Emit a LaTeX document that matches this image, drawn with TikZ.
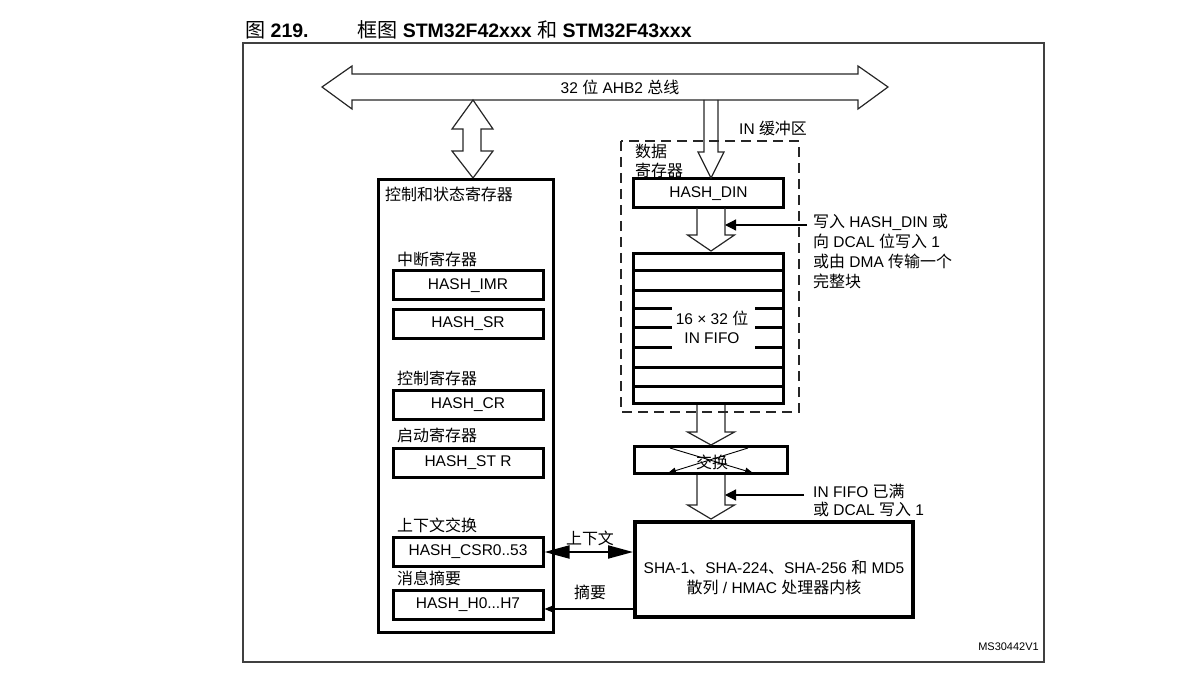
\documentclass[tikz,border=0pt]{standalone}
\usepackage{fontspec}
\setmainfont{Liberation Sans}
\newfontfamily\cjk[Scale=1.03]{Noto Sans CJK SC}
\usetikzlibrary{arrows.meta}
\newcommand{\zh}[1]{{\cjk #1}}
% open block arrow pointing down: x, y top, y head base, y tip, shaft half, head half
\newcommand{\fatarrow}[6]{%
  \draw[outline] ({#1-#5},#2) -- ({#1-#5},#3) -- ({#1-#6},#3) -- (#1,#4)
    -- ({#1+#6},#3) -- ({#1+#5},#3) -- ({#1+#5},#2);}
\tikzset{
  outline/.style={line width=1.2pt, black!85, line join=miter},
  regbox/.style={rectangle, draw, line width=3pt, minimum width=150pt, minimum height=29pt, inner sep=0pt, align=center},
  bigbox/.style={rectangle, draw, line width=3.2pt, inner sep=0pt},
  lbl/.style={inner sep=0pt},
  notearrow/.style={line width=1.2pt, -{Triangle[length=11pt, width=11pt]}},
}

\begin{document}
\begin{tikzpicture}[x=1pt, y=-1pt, font=\fontsize{15.5}{19}\selectfont]
  \useasboundingbox (0,0) rectangle (1181,676);

  % title
  \node[lbl, anchor=west, font=\fontsize{19.5}{22}\selectfont] (fignum) at (245,30) {\zh{图} \textbf{219.}};
  \node[lbl, anchor=west, font=\fontsize{19.5}{22}\selectfont] (figtitle) at (357,30)
    {\zh{框图} \textbf{STM32F42xxx} \zh{和} \textbf{STM32F43xxx}};

  % frame
  \draw[line width=1.2pt, black!75] (243,43) rectangle (1044,662);

  % AHB2 bus
  \draw[outline] (322,87) -- (352,66) -- (352,74) -- (858,74) -- (858,66) -- (888,87)
    -- (858,109) -- (858,100) -- (352,100) -- (352,109) -- cycle;
  \node[lbl] (bus) at (620,87) {32 \zh{位} AHB2 \zh{总线}};

  % bus <-> registers
  \draw[outline] (473,100) -- (493,129) -- (481,129) -- (481,151) -- (493,151) -- (473,178)
    -- (452,151) -- (463,151) -- (463,129) -- (452,129) -- cycle;

  % control and status registers
  \node[bigbox, minimum width=175pt, minimum height=453pt] (csr) at (466,406) {};
  \node[lbl, anchor=west] (csrtitle) at (385,194) {\zh{控制和状态寄存器}};
  \node[lbl, anchor=west] (irqlbl) at (397,259) {\zh{中断寄存器}};
  \node[regbox] (imr) at (468,285.5) {HASH\_IMR};
  \node[regbox] (sr) at (468,324) {HASH\_SR};
  \node[lbl, anchor=west] (crlbl) at (397,378) {\zh{控制寄存器}};
  \node[regbox] (cr) at (468,404.5) {HASH\_CR};
  \node[lbl, anchor=west] (strlbl) at (397,435) {\zh{启动寄存器}};
  \node[regbox] (str) at (468,462.5) {HASH\_ST R};
  \node[lbl, anchor=west] (ctxlbl) at (397,525) {\zh{上下文交换}};
  \node[regbox] (csrreg) at (468,552) {HASH\_CSR0..53};
  \node[lbl, anchor=west] (msglbl) at (397,578) {\zh{消息摘要}};
  \node[regbox] (hreg) at (468,605) {HASH\_H0...H7};

  % IN buffer
  \draw[outline, dashed, dash pattern=on 10pt off 6pt] (621,141) rectangle (799,412);
  \node[lbl, anchor=west] (inbuf) at (739,128) {IN \zh{缓冲区}};
  \node[lbl, anchor=north west, align=left] (datalbl) at (635,144) {\zh{数据}\\\zh{寄存器}};
  \node[regbox, minimum width=150pt] (din) at (708.5,193.5) {HASH\_DIN};
  \node[bigbox, line width=3pt, minimum width=150pt, minimum height=150pt] (fifo) at (708.5,328.5) {};
  \foreach \y in {271,291,367,386}
    \draw[line width=3pt] (632,\y) -- (785,\y);
  \foreach \y in {309,328,348} {
    \draw[line width=3pt] (632,\y) -- (672,\y);
    \draw[line width=3pt] (755,\y) -- (785,\y);
  }
  \node[lbl, align=center] (fifolbl) at (712,327) {16 × 32 \zh{位}\\IN FIFO};

  % swap
  \node[regbox, minimum width=153pt, minimum height=27pt] (swap) at (711,460) {};
  \draw[line width=0.9pt, -{Triangle[length=8pt, width=6pt]}] (670,448) -- (753,473);
  \draw[line width=0.9pt, -{Triangle[length=8pt, width=6pt]}] (748,448) -- (668,473);
  \node[lbl] (swaplbl) at (712,462) {\zh{交换}};

  % hash core
  \node[bigbox, line width=4pt, minimum width=278pt, minimum height=95pt] (sha) at (774,569.5) {};
  \node[lbl, align=center, font=\fontsize{15.5}{20}\selectfont] (shalbl) at (774,578)
    {SHA-1\zh{、}SHA-224\zh{、}SHA-256 \zh{和} MD5\\\zh{散列} / HMAC \zh{处理器内核}};

  % data path
  \fatarrow{711}{100}{152}{178}{7}{13}
  \fatarrow{711}{208}{235}{251}{14}{23.5}
  \fatarrow{711}{405}{432}{445}{14}{23.5}
  \fatarrow{711}{475}{505}{519}{14}{23.5}

  % notes
  \node[lbl, anchor=north west, align=left, font=\fontsize{15.5}{20}\selectfont] (wrnote) at (813,214)
    {\zh{写入} HASH\_DIN \zh{或}\\\zh{向} DCAL \zh{位写入} 1\\\zh{或由} DMA \zh{传输一个}\\\zh{完整块}};
  \coordinate (wrstart) at (807,225);
  \coordinate (dinpt) at (725,225);
  \draw[notearrow] (wrstart) -- (dinpt);
  \node[lbl, anchor=north west, align=left, font=\fontsize{15.5}{18}\selectfont] (fullnote) at (813,484)
    {IN FIFO \zh{已满}\\\zh{或} DCAL \zh{写入} 1};
  \coordinate (fullstart) at (804,495);
  \coordinate (fullpt) at (725,495);
  \draw[notearrow] (fullstart) -- (fullpt);

  % context / digest
  \draw[line width=2pt, {Triangle[length=25pt, width=13pt]}-{Triangle[length=25pt, width=13pt]}]
    (csrreg.east) -- (sha.west |- csrreg.east);
  \node[lbl] (ctxtxt) at (590,538) {\zh{上下文}};
  \coordinate (dgin) at ([yshift=-4pt]hreg.east);
  \draw[line width=1.2pt, -{Triangle[length=10pt, width=8pt]}] (dgin -| sha.west) -- (dgin);
  \node[lbl] (dgsttxt) at (590,592) {\zh{摘要}};

  \node[lbl, anchor=east, font=\fontsize{11}{13}\selectfont] (docid) at (1039,647) {MS30442V1};
\end{tikzpicture}
\end{document}
